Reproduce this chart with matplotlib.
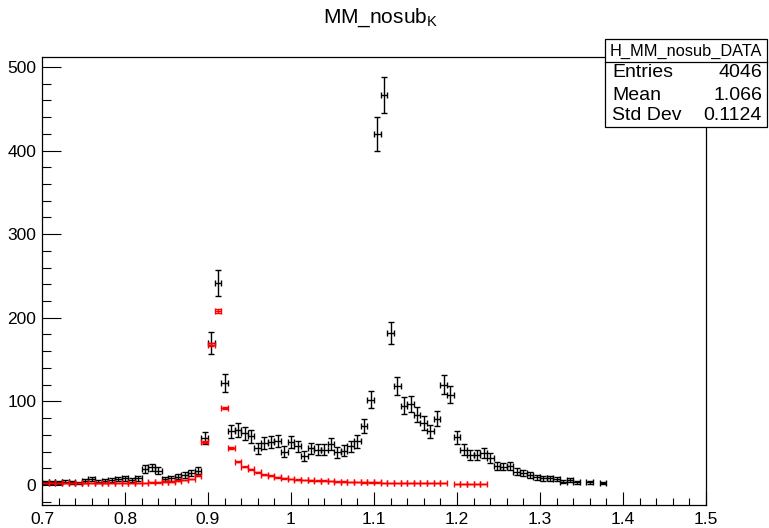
import numpy as np
import matplotlib
matplotlib.use("Agg")
import matplotlib.pyplot as plt
from matplotlib.patches import Rectangle
from matplotlib.lines import Line2D
from matplotlib.ticker import MultipleLocator

plt.rcParams['font.family'] = ['Liberation Sans', 'DejaVu Sans']
plt.rcParams['mathtext.fontset'] = 'custom'
plt.rcParams['mathtext.rm'] = 'Liberation Sans'
plt.rcParams['mathtext.default'] = 'regular'

# histogram binning: 100 bins from 0.7 to 1.5
x_lo = 0.7
x_hi = 1.5
n_bins = 100

# black histogram (data), bin contents, empty bins = 0
data_counts = [
    3, 3, 3, 4, 3, 2, 5, 7, 4, 5,
    6, 7, 8, 6, 8, 19, 21, 17, 7, 8,
    10, 12, 14, 17, 56, 170, 242, 122, 64, 66,
    62, 58, 44, 50, 51, 53, 40, 51, 46, 35,
    44, 42, 42, 49, 39, 41, 46, 52, 70, 102,
    420, 466, 182, 118, 95, 97, 84, 74, 64, 79,
    120, 108, 57, 42, 36, 36, 38, 32, 23, 22,
    23, 16, 14, 12, 9, 8, 8, 7, 4, 6,
    3, 0, 3, 0, 2, 0, 0, 0, 0, 0,
    0, 0, 0, 0, 0, 0, 0, 0, 0, 0,
]

# red histogram (scaled), small errors
red_counts = [
    2, 2, 2, 2, 2, 2, 2, 2, 2, 2,
    2, 2, 2, 2, 2, 2.5, 3, 3, 4, 4,
    5, 6, 7, 11, 51, 168, 208, 92, 44, 28,
    22, 19, 15, 12, 11, 9, 8, 7, 6.5, 6,
    5.5, 5, 5, 4.5, 4, 4, 3.5, 3.5, 3, 3,
    3, 2.5, 2.5, 2.5, 2, 2, 2, 2, 2, 2,
    2, 0, 1.5, 1.5, 1.5, 1.5, 1.5, 0, 0, 0,
    0, 0, 0, 0, 0, 0, 0, 0, 0, 0,
    0, 0, 0, 0, 0, 0, 0, 0, 0, 0,
    0, 0, 0, 0, 0, 0, 0, 0, 0, 0,
]

stats_name = "H_MM_nosub_DATA"
stats_rows = [("Entries", "4046"), ("Mean", "1.066"), ("Std Dev", "0.1124")]

edges = np.linspace(x_lo, x_hi, n_bins + 1)
centers = 0.5 * (edges[:-1] + edges[1:])
half_w = 0.5 * (edges[1] - edges[0])

data = np.array(data_counts, dtype=float)
red = np.array(red_counts, dtype=float)

W, H = 769, 528
fig = plt.figure(figsize=(W / 100, H / 100), dpi=100)
ax = fig.add_axes([42 / W, 1 - 505 / H, (706 - 42) / W, (505 - 57) / H])

m = data > 0
ax.errorbar(centers[m], data[m], yerr=np.sqrt(data[m]), xerr=half_w,
            fmt='none', ecolor='black', elinewidth=1.0, capsize=2, capthick=1.0)

m = red > 0
ax.errorbar(centers[m], red[m], yerr=0.15 * np.sqrt(red[m]), xerr=half_w,
            fmt='none', ecolor='#ff0000', elinewidth=1.0, capsize=2, capthick=1.0)

ax.set_xlim(x_lo, x_hi)
ax.set_ylim(-24, 512)
ax.xaxis.set_minor_locator(MultipleLocator(0.02))
ax.yaxis.set_major_locator(MultipleLocator(100))
ax.yaxis.set_minor_locator(MultipleLocator(20))
ax.set_xticks(np.arange(0.7, 1.51, 0.1))
ax.set_xticklabels(["0.7", "0.8", "0.9", "1", "1.1", "1.2", "1.3", "1.4", "1.5"])
ax.tick_params(axis='x', which='major', direction='in', length=9.5, width=0.8,
               labelsize=12.5, pad=5, top=False)
ax.tick_params(axis='x', which='minor', direction='in', length=5, width=0.8, top=False)
ax.tick_params(axis='y', which='major', direction='in', length=14, width=0.8,
               labelsize=12.5, pad=4, right=False)
ax.tick_params(axis='y', which='minor', direction='in', length=6.5, width=0.8, right=False)
for s in ax.spines.values():
    s.set_linewidth(0.9)

fig.text(0.495, 1 - 18 / H, r"MM_nosub$_{K}$", ha='center', va='center', fontsize=15)

# stats box
bx0, bx1, by0, by1, bsep = 605, 767, 39, 127, 62
fig.patches.append(Rectangle((bx0 / W, 1 - by1 / H), (bx1 - bx0) / W, (by1 - by0) / H,
                             transform=fig.transFigure, facecolor='white',
                             edgecolor='black', linewidth=0.9, zorder=5))
fig.lines.append(Line2D([bx0 / W, bx1 / W], [1 - bsep / H, 1 - bsep / H],
                        transform=fig.transFigure, color='black', linewidth=0.9, zorder=6))
fig.text((bx0 + bx1) / 2 / W, 1 - 51 / H, stats_name, ha='center', va='center',
         fontsize=11.8, zorder=7)
row_y = [73, 95, 116]
for (lab, val), yy in zip(stats_rows, row_y):
    fig.text(612 / W, 1 - yy / H, lab, ha='left', va='center', fontsize=14, zorder=7)
    fig.text(762 / W, 1 - yy / H, val, ha='right', va='center', fontsize=14, zorder=7)

fig.savefig("out.png", dpi=100)
